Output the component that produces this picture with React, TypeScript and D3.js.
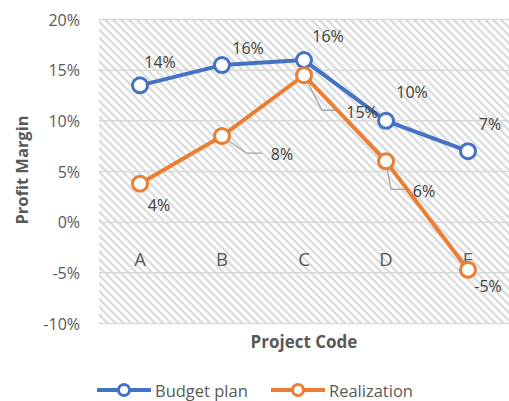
import React, { useEffect, useRef } from "react";
import * as d3 from "d3";

const categories = ["A", "B", "C", "D", "E"];
const budgetPlan = [13.5, 15.5, 16.0, 10.0, 7.0];
const realization = [3.8, 8.5, 14.5, 6.0, -4.7];
const budgetLabels = ["14%", "16%", "16%", "10%", "7%"];
const realizationLabels = ["4%", "8%", "15%", "6%", "-5%"];
const yTicks = [-10, -5, 0, 5, 10, 15, 20];

// label placement relative to each point (dx, dy) + optional leader elbow
const budgetOffsets = [[20, -23], [26, -17], [24, -24], [26, -29], [22, -27]];
const realOffsets = [[19, 21], [60, 18], [58, 37], [38, 30], [20, 16]];
const realLeaders: (number[] | null)[] = [null, [24, 17, 40], [18, 35, 32], [5, 28, 19], null];

const W = 509;
const H = 401;
const FONT = "'Open Sans', 'Noto Sans', sans-serif";

export default function App() {
  const ref = useRef<SVGSVGElement>(null);

  useEffect(() => {
    const svg = d3.select(ref.current);
    svg.selectAll("*").remove();

    const x = d3.scalePoint<string>().domain(categories).range([140, 468]);
    const y = d3.scaleLinear().domain([-10, 20]).range([323.5, 19.5]);

    const P = 5.6;
    const defs = svg.append("defs");
    const pat = defs.append("pattern")
      .attr("id", "hatch")
      .attr("patternUnits", "userSpaceOnUse")
      .attr("width", P)
      .attr("height", P)
      .attr("patternTransform", "rotate(45)");
    pat.append("rect").attr("width", P).attr("height", P).attr("fill", "#ffffff");
    pat.append("line")
      .attr("x1", 0).attr("y1", 1.2).attr("x2", P).attr("y2", 1.2)
      .attr("stroke", "#d8d8d8").attr("stroke-width", 2.2);

    // plot background
    svg.append("rect")
      .attr("x", 99).attr("y", y(20))
      .attr("width", 410).attr("height", y(-10) - y(20))
      .attr("fill", "url(#hatch)");

    // gridlines
    svg.append("g").selectAll("line")
      .data(yTicks)
      .join("line")
      .attr("x1", 99).attr("x2", 509)
      .attr("y1", d => y(d)).attr("y2", d => y(d))
      .attr("stroke", "#d9d9d9").attr("stroke-width", 1.5);

    // y tick labels
    svg.append("g").selectAll("text")
      .data(yTicks)
      .join("text")
      .attr("x", 80).attr("y", d => y(d))
      .attr("text-anchor", "end")
      .attr("dominant-baseline", "central")
      .attr("font-family", FONT).attr("font-size", 16)
      .attr("fill", "#595959")
      .text(d => `${d}%`);

    // category labels inside plot
    svg.append("g").selectAll("text")
      .data(categories)
      .join("text")
      .attr("x", d => x(d)!).attr("y", 258)
      .attr("text-anchor", "middle")
      .attr("dominant-baseline", "central")
      .attr("font-family", FONT).attr("font-size", 18.5)
      .attr("fill", "#595959")
      .text(d => d);

    // axis titles
    svg.append("text")
      .attr("transform", `translate(21, 170) rotate(-90)`)
      .attr("text-anchor", "middle")
      .attr("dominant-baseline", "central")
      .attr("font-family", FONT).attr("font-size", 16.5).attr("font-weight", "bold")
      .attr("fill", "#595959")
      .text("Profit Margin");
    svg.append("text")
      .attr("x", 304).attr("y", 341)
      .attr("text-anchor", "middle")
      .attr("dominant-baseline", "central")
      .attr("font-family", FONT).attr("font-size", 17).attr("font-weight", "bold")
      .attr("fill", "#595959")
      .text("Project Code");

    const line = d3.line<number>()
      .x((_, i) => x(categories[i])!)
      .y(d => y(d));

    const series = [
      { values: budgetPlan, color: "#4472C4", labels: budgetLabels, offsets: budgetOffsets, leaders: null as any },
      { values: realization, color: "#ED7D31", labels: realizationLabels, offsets: realOffsets, leaders: realLeaders },
    ];

    // leader lines first
    series.forEach(s => {
      if (!s.leaders) return;
      s.values.forEach((v, i) => {
        const l = s.leaders[i];
        if (!l) return;
        const px = x(categories[i])!;
        const py = y(v);
        svg.append("path")
          .attr("d", `M${px},${py} L${px + l[0]},${py + l[1]} L${px + l[2]},${py + l[1]}`)
          .attr("fill", "none").attr("stroke", "#a6a6a6").attr("stroke-width", 1.3);
      });
    });

    series.forEach(s => {
      svg.append("path")
        .datum(s.values)
        .attr("d", line)
        .attr("fill", "none")
        .attr("stroke", s.color)
        .attr("stroke-width", 4)
        .attr("stroke-linejoin", "round");
      svg.append("g").selectAll("circle")
        .data(s.values)
        .join("circle")
        .attr("cx", (_, i) => x(categories[i])!)
        .attr("cy", d => y(d))
        .attr("r", 7.5)
        .attr("fill", "#ffffff")
        .attr("stroke", s.color)
        .attr("stroke-width", 3);
      svg.append("g").selectAll("text")
        .data(s.values)
        .join("text")
        .attr("x", (_, i) => x(categories[i])! + s.offsets[i][0])
        .attr("y", (d, i) => y(d) + s.offsets[i][1])
        .attr("text-anchor", "middle")
        .attr("dominant-baseline", "central")
        .attr("font-family", FONT).attr("font-size", 16)
        .attr("fill", "#404040")
        .text((_, i) => s.labels[i]);
    });

    // legend
    const legend = [
      { name: "Budget plan", color: "#4472C4", x0: 97 },
      { name: "Realization", color: "#ED7D31", x0: 271 },
    ];
    legend.forEach(l => {
      const g = svg.append("g");
      g.append("line")
        .attr("x1", l.x0).attr("x2", l.x0 + 54)
        .attr("y1", 390).attr("y2", 390)
        .attr("stroke", l.color).attr("stroke-width", 4);
      g.append("circle")
        .attr("cx", l.x0 + 27).attr("cy", 390).attr("r", 5.5)
        .attr("fill", "#ffffff").attr("stroke", l.color).attr("stroke-width", 3);
      g.append("text")
        .attr("x", l.x0 + 58).attr("y", 390)
        .attr("dominant-baseline", "central")
        .attr("font-family", FONT).attr("font-size", 16.5)
        .attr("fill", "#595959")
        .text(l.name);
    });
  }, []);

  return (
    <svg
      ref={ref}
      width={W}
      height={H}
      style={{ position: "absolute", left: 0, top: 0, background: "#ffffff" }}
    />
  );
}
